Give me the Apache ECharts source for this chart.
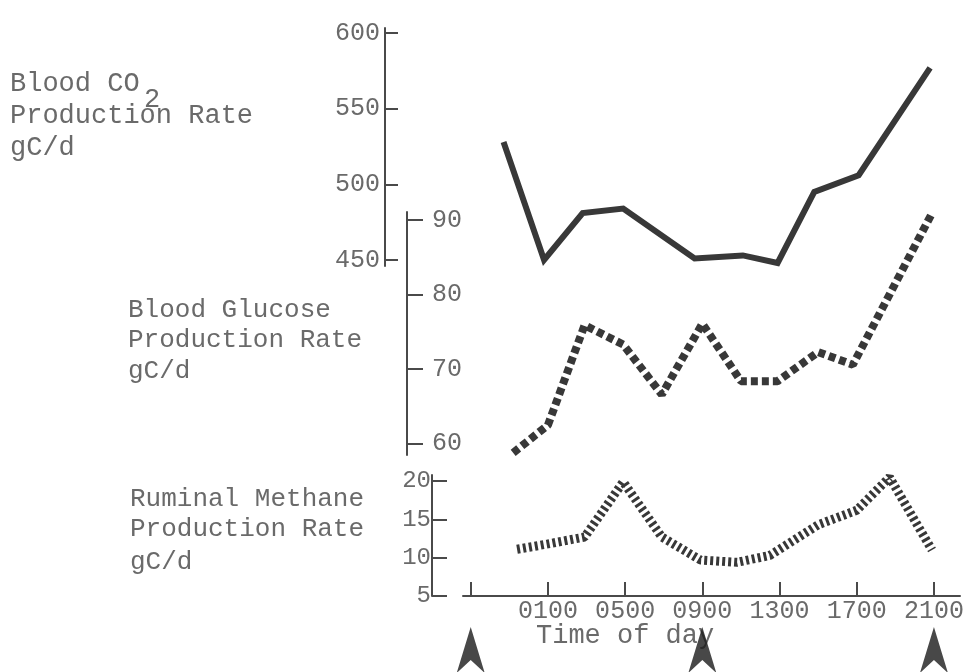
<!DOCTYPE html>
<html><head><meta charset="utf-8">
<script src="https://cdn.jsdelivr.net/npm/echarts@6/dist/echarts.min.js"></script>
<style>html,body{margin:0;padding:0;background:#fff}#c{width:967px;height:672px}</style>
</head><body><div id="c"></div>
<script>
// ---- data ----
const co2Hours = [-1.3, 0.8, 2.8, 4.9, 8.6, 11.1, 12.9, 14.8, 17.1, 20.8];
const co2Values = [528, 450, 481, 484, 451, 453, 448, 495, 506, 577];
const glucoseHours = [-0.8, 1.0, 2.9, 4.9, 6.9, 9.0, 11.0, 12.9, 15.0, 16.8, 20.9];
const glucoseValues = [58.8, 62.5, 75.9, 73.3, 66.6, 76.1, 68.4, 68.4, 72.3, 70.6, 90.9];
const methaneHours = [-0.6, 1.0, 2.9, 4.9, 6.9, 8.9, 10.8, 12.5, 15.0, 17.0, 18.7, 20.9];
const methaneValues = [11.1, 11.8, 12.7, 19.9, 12.7, 9.7, 9.4, 10.3, 14.3, 16.2, 20.5, 11.0];
const timeTickHours = [-3, 1, 5, 9, 13, 17, 21];
const timeLabelHours = [1, 5, 9, 13, 17, 21];
const timeLabels = ['0100', '0500', '0900', '1300', '1700', '2100'];
const co2Ticks = [450, 500, 550, 600];
const glucoseTicks = [60, 70, 80, 90];
const methaneTicks = [5, 10, 15, 20];
const feedingHours = [-3, 9, 21];

const FONT = '"Liberation Mono", "DejaVu Sans Mono", monospace';
const TXT = '#6a6a6a';
const AX = '#4a4a4a';
const INK = '#383838';
const X_MIN = -3.4, X_MAX = 22.35;

function xAxisHidden(gi) {
  return { type: 'value', gridIndex: gi, min: X_MIN, max: X_MAX, show: false };
}
function pairs(h, v) { return h.map((x, i) => [x, v[i]]); }

const chart = echarts.init(document.getElementById('c'), null, { renderer: 'canvas' });
chart.setOption({
  animation: false,
  backgroundColor: '#ffffff',
  grid: [
    { left: 463, right: 7, top: 28, height: 238 },
    { left: 463, right: 7, top: 212, height: 243 },
    { left: 463, right: 7, top: 475, height: 121 },
    { left: 463, right: 7, top: 628, height: 46 }
  ],
  xAxis: [
    xAxisHidden(0),
    xAxisHidden(1),
    {
      type: 'value', gridIndex: 2, min: X_MIN, max: X_MAX,
      axisLine: { show: true, onZero: false, lineStyle: { color: AX, width: 2 } },
      axisTick: { show: true, inside: true, length: 14, customValues: timeTickHours, lineStyle: { color: AX, width: 2 } },
      axisLabel: {
        show: true, customValues: timeLabelHours, margin: 3,
        fontFamily: FONT, fontSize: 25, color: TXT,
        formatter: v => timeLabels[timeLabelHours.indexOf(v)]
      },
      splitLine: { show: false }
    },
    xAxisHidden(3)
  ],
  yAxis: [
    {
      type: 'value', gridIndex: 0, min: 446, max: 603.3, position: 'left', offset: 78,
      axisLine: { show: true, onZero: false, lineStyle: { color: AX, width: 2 } },
      axisTick: { show: true, inside: true, length: 13, customValues: co2Ticks, lineStyle: { color: AX, width: 2 } },
      axisLabel: { customValues: co2Ticks, margin: 5, fontFamily: FONT, fontSize: 25, color: TXT },
      splitLine: { show: false }
    },
    {
      type: 'value', gridIndex: 1, min: 58.5, max: 91.07, position: 'left', offset: 56,
      axisLine: { show: true, onZero: false, lineStyle: { color: AX, width: 2 } },
      axisTick: { show: true, inside: true, length: 16, customValues: glucoseTicks, lineStyle: { color: AX, width: 2 } },
      axisLabel: { customValues: glucoseTicks, inside: true, margin: 25, fontFamily: FONT, fontSize: 25, color: TXT },
      splitLine: { show: false }
    },
    {
      type: 'value', gridIndex: 2, min: 5, max: 20.8, position: 'left', offset: 31,
      axisLine: { show: true, onZero: false, lineStyle: { color: AX, width: 2 } },
      axisTick: { show: true, inside: true, length: 15, customValues: methaneTicks, lineStyle: { color: AX, width: 2 } },
      axisLabel: { customValues: methaneTicks, margin: 1, fontFamily: FONT, fontSize: 24, color: TXT },
      splitLine: { show: false }
    },
    { type: 'value', gridIndex: 3, min: 0, max: 1, show: false }
  ],
  series: [
    {
      name: 'Blood CO2', type: 'line', xAxisIndex: 0, yAxisIndex: 0,
      data: pairs(co2Hours, co2Values), showSymbol: false, clip: false,
      lineStyle: { color: INK, width: 6, cap: 'butt', join: 'miter' }
    },
    {
      name: 'Blood Glucose', type: 'line', xAxisIndex: 1, yAxisIndex: 1,
      data: pairs(glucoseHours, glucoseValues), showSymbol: false, clip: false,
      lineStyle: { color: INK, width: 8, type: [7, 4], cap: 'butt' }
    },
    {
      name: 'Ruminal Methane', type: 'line', xAxisIndex: 2, yAxisIndex: 2,
      data: pairs(methaneHours, methaneValues), showSymbol: false, clip: false,
      lineStyle: { color: INK, width: 9, type: [3, 3], cap: 'butt' }
    },
    {
      name: 'Feeding', type: 'scatter', xAxisIndex: 3, yAxisIndex: 3, clip: false,
      data: feedingHours.map(h => [h, 0.5]),
      symbol: 'path://M14,0 L28,46 L14,33 L0,46 Z', symbolSize: [28, 46],
      itemStyle: { color: '#1a1a1a' }
    }
  ],
  graphic: [
    { type: 'text', left: 10, top: 70, style: { text: 'Blood CO', font: '27px ' + FONT, fill: TXT } },
    { type: 'text', left: 144, top: 86, style: { text: '2', font: '27px ' + FONT, fill: TXT } },
    { type: 'text', left: 10, top: 102, style: { text: 'Production Rate', font: '27px ' + FONT, fill: TXT } },
    { type: 'text', left: 10, top: 134, style: { text: 'gC/d', font: '27px ' + FONT, fill: TXT } },

    { type: 'text', left: 128, top: 297, style: { text: 'Blood Glucose', font: '26px ' + FONT, fill: TXT } },
    { type: 'text', left: 128, top: 327, style: { text: 'Production Rate', font: '26px ' + FONT, fill: TXT } },
    { type: 'text', left: 128, top: 358, style: { text: 'gC/d', font: '26px ' + FONT, fill: TXT } },

    { type: 'text', left: 130, top: 486, style: { text: 'Ruminal Methane', font: '26px ' + FONT, fill: TXT } },
    { type: 'text', left: 130, top: 516, style: { text: 'Production Rate', font: '26px ' + FONT, fill: TXT } },
    { type: 'text', left: 130, top: 549, style: { text: 'gC/d', font: '26px ' + FONT, fill: TXT } },

    { type: 'text', left: 536, top: 622, style: { text: 'Time of day', font: '27px ' + FONT, fill: TXT } }
  ]
});
</script>
</body></html>
